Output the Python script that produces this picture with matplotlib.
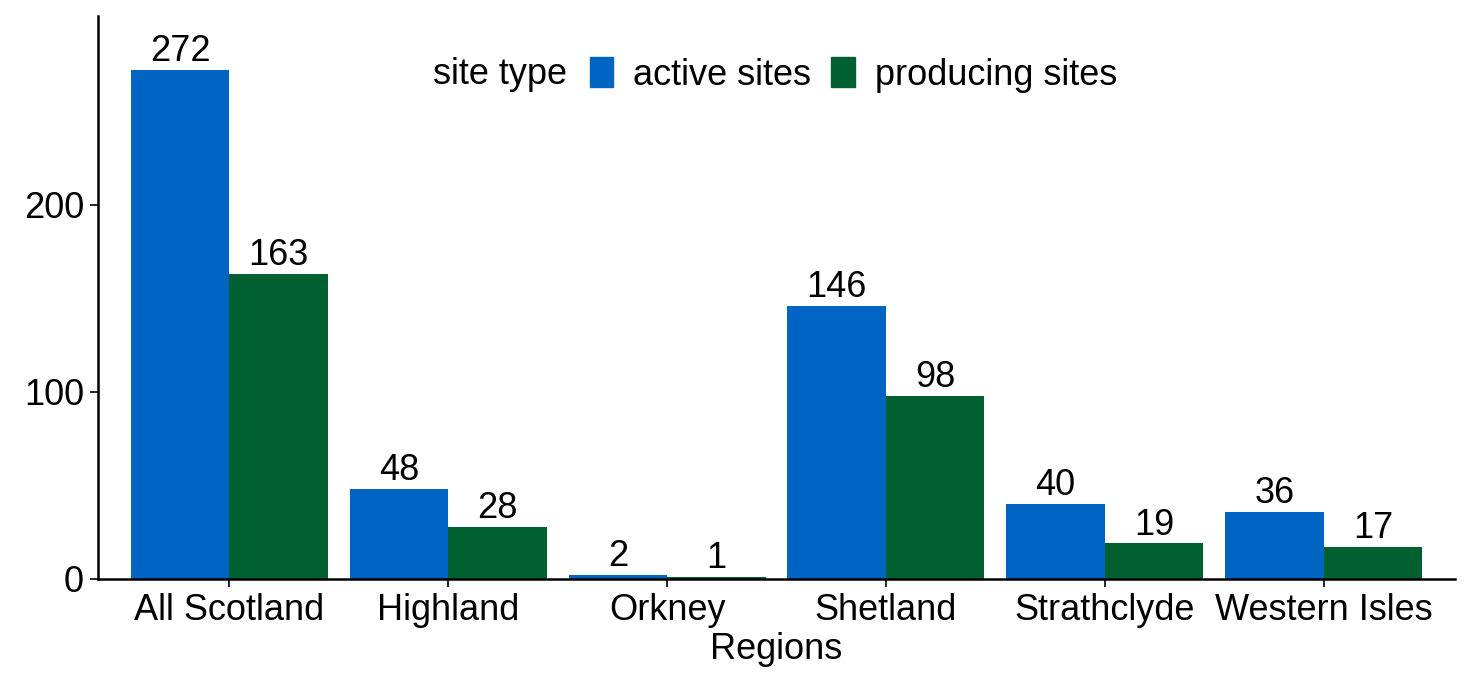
import matplotlib.pyplot as plt
import numpy as np
from matplotlib.patches import Patch

plt.rcParams['font.family'] = ['Liberation Sans', 'DejaVu Sans']

regions = ['All Scotland', 'Highland', 'Orkney', 'Shetland', 'Strathclyde', 'Western Isles']
active_sites = [272, 48, 2, 146, 40, 36]
producing_sites = [163, 28, 1, 98, 19, 17]

blue = '#0065c2'
green = '#006030'
fs = 26

fig = plt.figure(figsize=(14.7, 6.86), dpi=100)
ax = fig.add_axes([98 / 1470, 1 - 579 / 686, (1455 - 98) / 1470, (579 - 16) / 686])

x = np.arange(len(regions))
w = 0.45
b1 = ax.bar(x - w / 2, active_sites, w, color=blue)
b2 = ax.bar(x + w / 2, producing_sites, w, color=green)
for bars, vals in ((b1, active_sites), (b2, producing_sites)):
    for rect, v in zip(bars, vals):
        ax.text(rect.get_x() + rect.get_width() / 2, v + 0.5, str(v),
                ha='center', va='bottom', fontsize=fs)

ax.set_xlim(-0.6, 5.6)
ax.set_ylim(0, 301)
ax.set_yticks([0, 100, 200])
ax.set_xticks(x)
ax.set_xticklabels(regions)
ax.tick_params(labelsize=fs, length=6, width=1.2, colors='black', pad=4)
ax.spines['top'].set_visible(False)
ax.spines['right'].set_visible(False)
ax.spines['left'].set_linewidth(1.8)
ax.spines['bottom'].set_linewidth(1.8)
ax.set_xlabel('Regions', fontsize=fs, labelpad=3)

# legend: title to the left, two entries horizontally
fig.text(433 / 1470, 1 - 75 / 686, 'site type', fontsize=fs, va='center', ha='left')
handles = [Patch(color=blue), Patch(color=green)]
leg = fig.legend(handles, ['active sites', 'producing sites'], ncol=2,
                 loc='center left', bbox_to_anchor=(590 / 1470, 1 - 75 / 686),
                 frameon=False, fontsize=fs, handlelength=0.65, handleheight=0.9,
                 handletextpad=0.55, columnspacing=0.55, borderpad=0, borderaxespad=0)

fig.savefig('out.png', dpi=100)
